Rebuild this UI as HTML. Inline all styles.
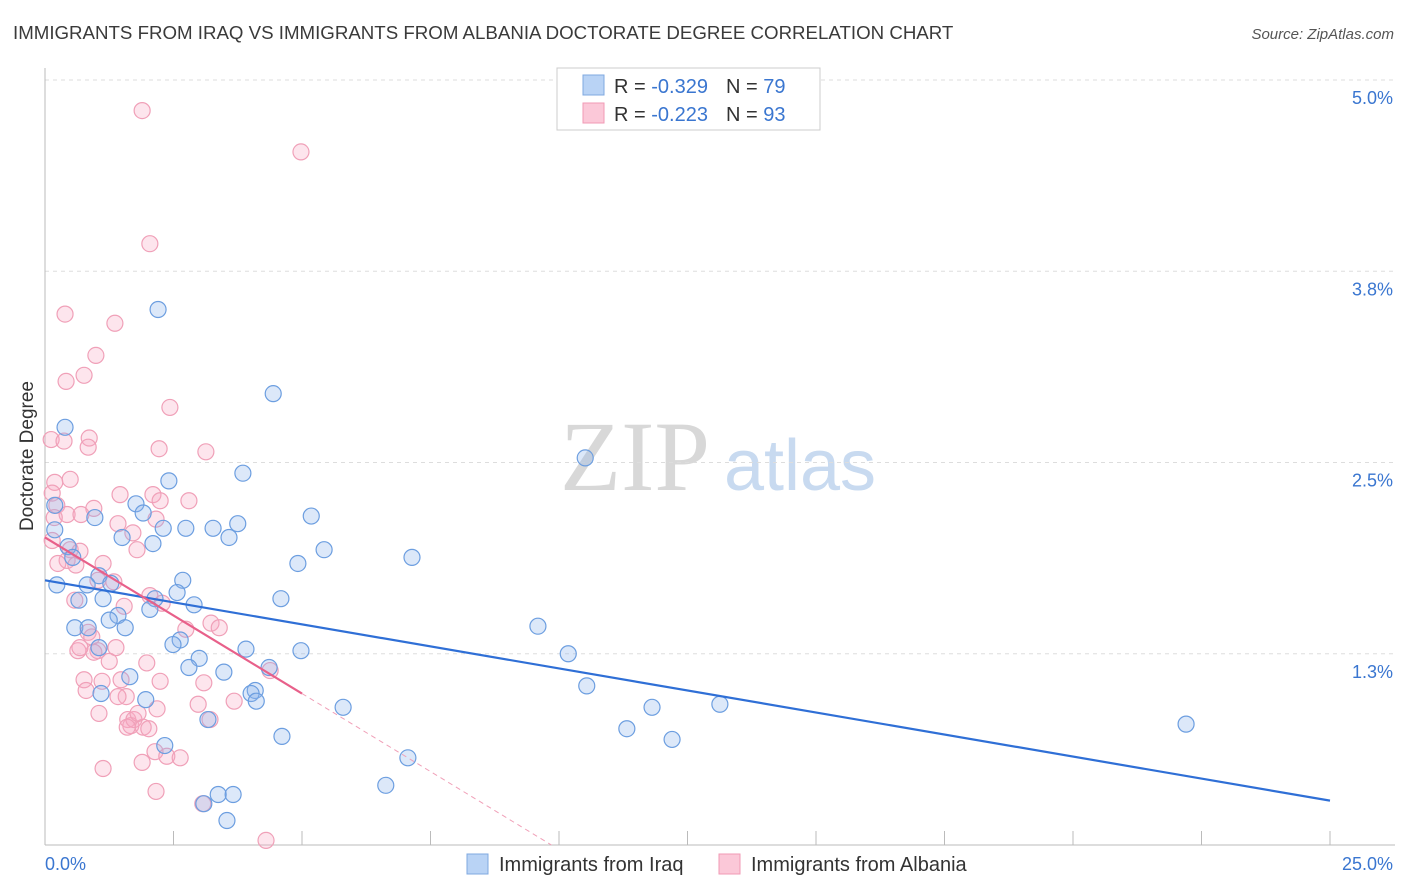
<!DOCTYPE html>
<html><head><meta charset="utf-8">
<style>
body{margin:0;background:#fff;font-family:"Liberation Sans",sans-serif;}
svg{display:block}
</style></head>
<body>
<svg id="chart" width="1406" height="892" xmlns="http://www.w3.org/2000/svg">
<text x="13" y="39" font-size="18.7" fill="#3a3a3a">IMMIGRANTS FROM IRAQ VS IMMIGRANTS FROM ALBANIA DOCTORATE DEGREE CORRELATION CHART</text>
<text x="1394" y="39" font-size="15" fill="#555" font-style="italic" text-anchor="end">Source: ZipAtlas.com</text>
<g>
<text x="635" y="490" font-size="100" fill="#d8d8d8" font-family="Liberation Serif,serif" text-anchor="middle">ZIP</text>
<text x="800" y="490" font-size="72" fill="#c8daf0" text-anchor="middle">atlas</text>
</g>
<g id="grid"></g>
<g id="axes"></g>
<g id="pts"></g>
<g id="trends"></g>
<text transform="translate(33,456) rotate(-90)" font-size="19" fill="#333" text-anchor="middle">Doctorate Degree</text>
<g>
<rect x="557" y="68" width="263" height="62" fill="#fff" stroke="#ccc"/>
<rect x="583" y="75" width="21" height="20" fill="#b9d3f5" stroke="#7fa8e0"/>
<rect x="583" y="103" width="21" height="20" fill="#fbc8d8" stroke="#f09ab5"/>
<text x="614" y="93" font-size="20" fill="#333">R = <tspan fill="#3a76d0">-0.329</tspan><tspan dx="18">N = </tspan><tspan fill="#3a76d0">79</tspan></text>
<text x="614" y="121" font-size="20" fill="#333">R = <tspan fill="#3a76d0">-0.223</tspan><tspan dx="18">N = </tspan><tspan fill="#3a76d0">93</tspan></text>
</g>
<g>
<rect x="467" y="854" width="21" height="20" fill="#b9d3f5" stroke="#7fa8e0"/>
<text x="499" y="871" font-size="20" fill="#333">Immigrants from Iraq</text>
<rect x="719" y="854" width="21" height="20" fill="#fbc8d8" stroke="#f09ab5"/>
<text x="751" y="871" font-size="20" fill="#333">Immigrants from Albania</text>
</g>
</svg>
<script>
const yTicks=[1.25,2.5,3.75,5.0];
const yTickLabels=["1.3%","2.5%","3.8%","5.0%"];
const xTickVals=[0,2.5,5,7.5,10,12.5,15,17.5,20,22.5,25];
const iraqX=[2.20,4.44,0.39,10.51,3.85,2.41,1.77,0.97,1.91,0.19,5.18,2.74,2.30,3.27,3.75,3.58,0.19,1.50,2.10,0.45,5.43,7.14,4.92,1.05,0.54,0.23,2.68,1.28,0.82,2.57,2.14,0.66,4.59,1.13,2.90,2.04,1.42,1.25,9.59,0.58,1.56,0.84,2.63,2.49,3.91,4.98,10.18,1.05,3.00,4.36,2.80,3.48,1.65,10.54,4.09,4.01,1.09,1.96,4.11,5.80,11.81,13.13,22.20,11.32,3.17,12.20,4.61,2.33,7.06,6.63,3.37,3.66,3.09,3.54];
const iraqY=[3.50,2.95,2.73,2.53,2.43,2.38,2.23,2.14,2.17,2.22,2.15,2.07,2.07,2.07,2.10,2.01,2.06,2.01,1.97,1.95,1.93,1.88,1.84,1.76,1.88,1.70,1.73,1.71,1.70,1.65,1.61,1.60,1.61,1.61,1.57,1.54,1.50,1.47,1.43,1.42,1.42,1.42,1.34,1.31,1.28,1.27,1.25,1.29,1.22,1.16,1.16,1.13,1.10,1.04,1.01,0.99,0.99,0.95,0.94,0.90,0.90,0.92,0.79,0.76,0.82,0.69,0.71,0.65,0.57,0.39,0.33,0.33,0.27,0.16];
const albX=[1.89,4.98,2.04,0.39,1.36,0.99,0.41,0.76,2.43,0.86,0.12,0.37,2.22,3.13,0.84,0.49,0.19,0.14,0.23,1.46,2.10,2.24,0.43,0.95,0.70,0.18,1.42,1.71,0.14,0.49,0.68,0.43,0.60,0.25,1.13,1.79,1.34,1.03,2.04,0.58,1.54,2.28,0.84,3.23,3.39,2.74,0.91,0.64,1.03,0.95,0.68,1.38,1.25,4.38,1.98,0.76,1.48,1.11,2.24,3.09,0.80,1.58,3.68,2.98,1.05,2.18,1.61,1.67,1.73,1.91,2.02,1.60,3.21,2.14,2.37,2.63,1.89,1.13,2.16,3.07,4.30,1.81,1.42,2.80,2.16];
const albY=[4.80,4.53,3.93,3.47,3.41,3.20,3.03,3.07,2.86,2.66,2.65,2.64,2.59,2.57,2.60,2.39,2.37,2.30,2.22,2.29,2.29,2.25,2.16,2.20,2.16,2.14,2.10,2.04,1.99,1.93,1.92,1.86,1.83,1.84,1.84,1.93,1.72,1.73,1.63,1.60,1.56,1.58,1.39,1.45,1.42,1.41,1.36,1.27,1.27,1.26,1.29,1.29,1.20,1.14,1.19,1.08,1.08,1.07,1.07,1.06,1.01,0.97,0.94,0.92,0.86,0.89,0.82,0.78,0.82,0.77,0.76,0.77,0.82,0.61,0.58,0.57,0.54,0.50,0.35,0.27,0.03,0.86,0.97,2.25,2.13];
const iraqTrend=[1.73,-0.0576];
const albTrend=[2.01,-0.204];
const NS="http://www.w3.org/2000/svg";
const X0=45,X1=1330,Y0=845,YS=153;
function sx(v){return X0+(X1-X0)*v/25;}
function sy(v){return Y0-v*YS;}
function mk(t,a,p){const e=document.createElementNS(NS,t);for(const k in a)e.setAttribute(k,a[k]);p.appendChild(e);return e;}
const grid=document.getElementById('grid'),axes=document.getElementById('axes'),pts=document.getElementById('pts'),tr=document.getElementById('trends');
yTicks.forEach((v,i)=>{
 const l=mk('line',{x1:X0,x2:1395,y1:sy(v),y2:sy(v),stroke:'#ddd','stroke-dasharray':'4,4'},grid);
 
 
 const t=mk('text',{x:1393,y:sy(v)+24,'font-size':18,fill:'#3a76d0','text-anchor':'end'},grid);
 t.textContent=yTickLabels[i];
 
 
});
const ya=mk('line',{x1:X0,x2:X0,y1:68,y2:Y0,stroke:'#bbb'},axes);


const xa=mk('line',{x1:X0,x2:1395,y1:Y0,y2:Y0,stroke:'#bbb'},axes);


xTickVals.forEach(v=>{
 const t=mk('line',{x1:sx(v),x2:sx(v),y1:Y0-14,y2:Y0,stroke:'#bbb'},axes);
 
 
});
const xl0=mk('text',{x:45,y:870,'font-size':18,fill:'#3a76d0'},axes);xl0.textContent='0.0%';


const xl1=mk('text',{x:1393,y:870,'font-size':18,fill:'#3a76d0','text-anchor':'end'},axes);xl1.textContent='25.0%';


function dots(xs,ys,fill,stroke,name){xs.forEach((x,i)=>{
 const c=mk('circle',{cx:sx(x),cy:sy(ys[i]),r:8,fill:fill,stroke:stroke,'stroke-width':1.2},pts);
 
 
});}
dots(albX,albY,'rgba(248,170,195,0.3)','#f0a0b8','albania-point');
dots(iraqX,iraqY,'rgba(140,180,235,0.3)','#6c9ee0','iraq-point');
const bl=mk('line',{x1:sx(0),y1:sy(iraqTrend[0]),x2:sx(25),y2:sy(iraqTrend[0]+25*iraqTrend[1]),stroke:'#2f6fd6','stroke-width':2.2},tr);


const pl=mk('line',{x1:sx(0),y1:sy(albTrend[0]),x2:sx(5),y2:sy(albTrend[0]+5*albTrend[1]),stroke:'#e8608a','stroke-width':2.2},tr);


const xe=-albTrend[0]/albTrend[1];
const pd=mk('line',{x1:sx(5),y1:sy(albTrend[0]+5*albTrend[1]),x2:sx(xe),y2:sy(0),stroke:'#f0a0b8','stroke-width':1,'stroke-dasharray':'5,4'},tr);


</script>
</body></html>
